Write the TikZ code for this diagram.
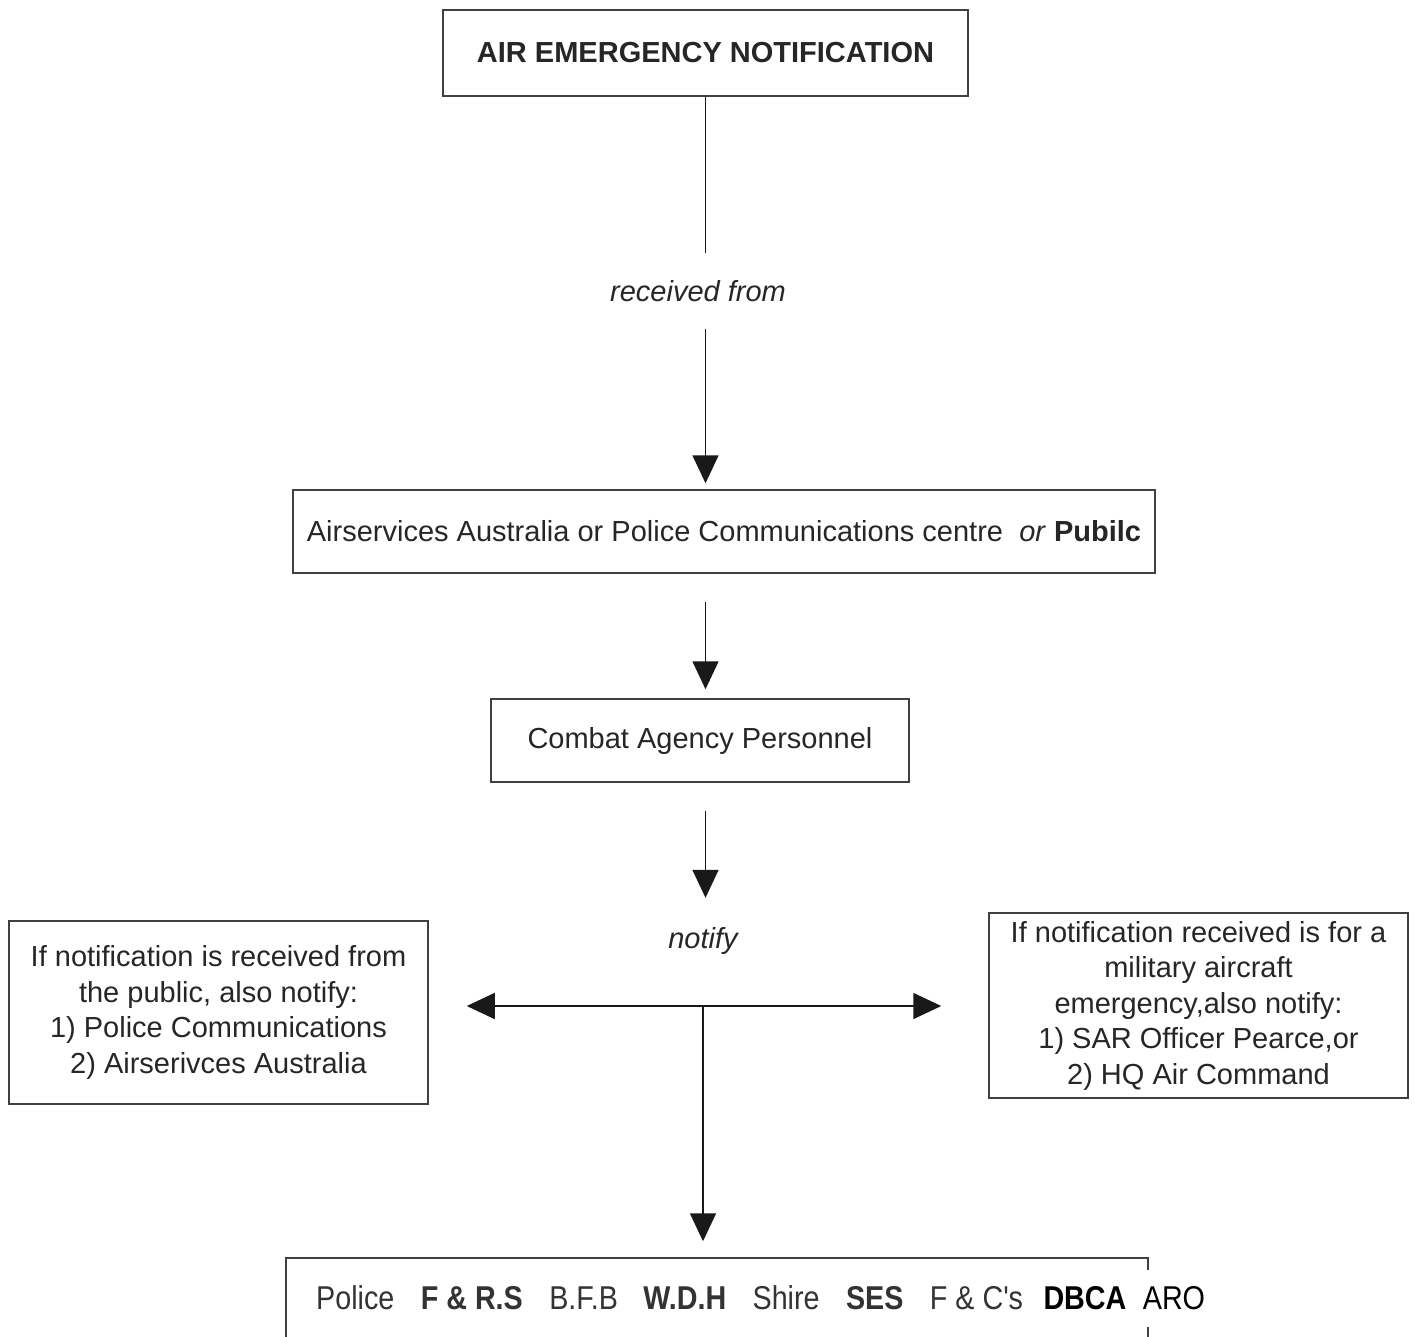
\documentclass[tikz,border=0pt]{standalone}
\usepackage{fontspec}
\setmainfont{Liberation Sans}
\newfontfamily\narrowfont[FakeStretch=0.87]{Liberation Sans}
\usetikzlibrary{positioning,arrows.meta}
\tikzset{
  box/.style={rectangle, draw=black!75, line width=1.5pt, text=black!85, align=center, inner sep=0pt, font=\fontsize{29}{35.5}\selectfont},
  lbl/.style={text=black!85, inner sep=0pt, font=\fontsize{29}{35.5}\selectfont\itshape},
  ag/.style={text=black!80, inner sep=0pt, font=\narrowfont\fontsize{33}{40}\selectfont},
  agb/.style={ag, font=\narrowfont\bfseries\fontsize{33}{40}\selectfont},
  link/.style={draw=black!90, line width=1.6pt},
  arr/.style={link, -{Triangle[length=28pt,width=26pt]}}
}
\begin{document}
\begin{tikzpicture}[x=1pt, y=-1pt]
	\useasboundingbox (0,0) rectangle (1415,1336);
	\clip (0,0) rectangle (1415,1336);

	\node[box, minimum width=525pt, minimum height=86pt, font=\fontsize{29}{35.5}\selectfont\bfseries] (alert) at (705.5,53) {AIR EMERGENCY NOTIFICATION};
	\node[lbl, minimum height=76pt] (recv) at (698,291) {received from};
	\node[box, minimum width=862pt, minimum height=83pt] (source) at (724,531.5) {Airservices Australia or Police Communications centre~~\textit{or} \textbf{Pubilc}};
	\node[box, minimum width=418pt, minimum height=83pt] (combat) at (700,740.5) {Combat Agency Personnel};
	\node[lbl, minimum height=86pt] (notify) at (703,941) {notify};
	\coordinate (split) at (703,1006);
	\node[box, minimum width=419pt, minimum height=183pt] (public) at (218.5,1012.5) {If notification is received from\\the public, also notify:\\1) Police Communications\\2) Airserivces Australia};
	\node[box, minimum width=419pt, minimum height=185pt] (military) at (1198.5,1005.5) {If notification received is for a\\military aircraft\\emergency,also notify:\\1) SAR Officer Pearce,or\\2) HQ Air Command};
	\node[box, minimum width=862pt, minimum height=120pt] (agencies) at (717,1318) {};

	% agencies to be notified
	\node[ag, anchor=base west] (police) at (316,1309.5) {Police};
	\node[agb, base right=26pt of police] (firers) {F \& R.S};
	\node[ag, base right=26pt of firers] (bfb) {B.F.B};
	\node[agb, base right=25pt of bfb] (wdh) {W.D.H};
	\node[ag, base right=26pt of wdh] (shire) {Shire};
	\node[agb, base right=26pt of shire] (ses) {SES};
	\node[ag, base right=26pt of ses] (fcs) {F \& C's};
	\node[agb, text=black, base right=20pt of fcs] (dbca) {DBCA};
	\node[ag, text=black, fill=white, minimum height=57pt, base right=16pt of dbca] (aro) {ARO};

	\draw[link] (alert.south) -- (alert.south |- recv.north);
	\draw[arr, shorten >=6pt] (alert.south |- recv.south) -- (alert.south |- source.north);
	\draw[arr, shorten <=28pt, shorten >=9pt] (alert.south |- source.south) -- (alert.south |- combat.north);
	\draw[arr, shorten <=28pt] (alert.south |- combat.south) -- (alert.south |- notify.north);
	\draw[arr, shorten >=38pt] (split) -- (split -| public.east);
	\draw[arr, shorten >=47pt] (split) -- (split -| military.west);
	\draw[arr, shorten >=16pt] (split) -- (split |- agencies.north);
\end{tikzpicture}
\end{document}
